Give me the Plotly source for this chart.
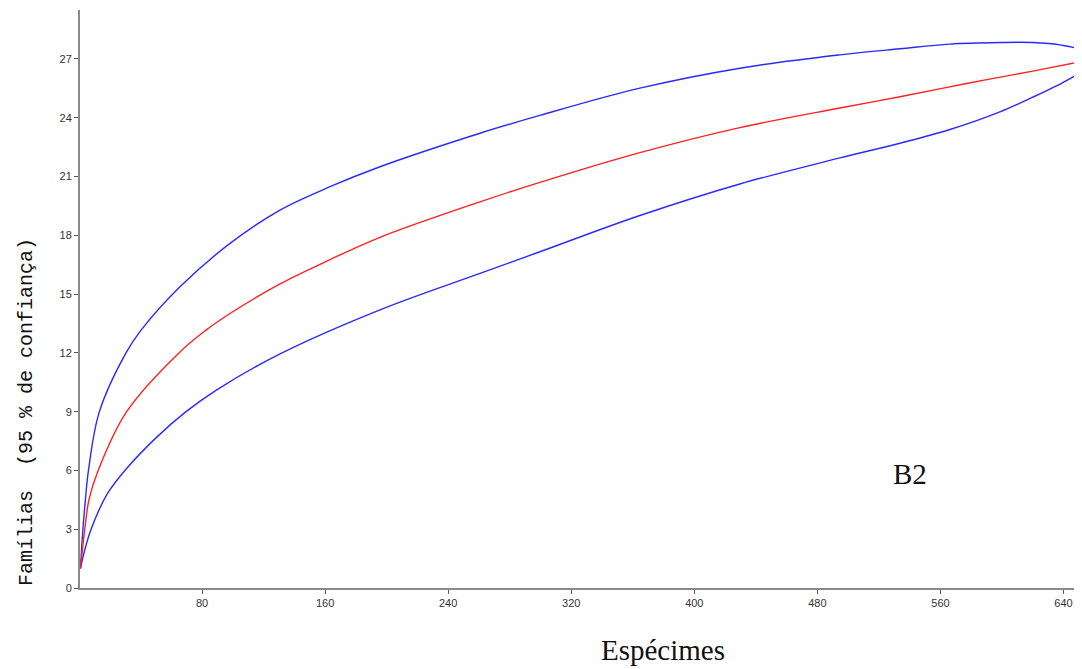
import plotly.graph_objects as go

# Data
mean_x = [1, 3.8, 6.5, 12.5, 31.0, 65.7, 82.6, 98.2, 130.7, 163.2, 195.7, 260.7, 299.6,
          364.6, 429.6, 494.6, 533.6, 577.0, 620.0, 651.9, 656.0]
mean_y = [1.0, 3.0, 4.5, 6.0, 9.0, 12.05, 13.16, 14.01, 15.52, 16.76, 17.90, 19.71, 20.70,
          22.22, 23.50, 24.50, 25.07, 25.75, 26.38, 26.88, 26.95]

upper_x = [1, 2.6, 4.2, 6.2, 13.3, 30.6, 40.4, 65.7, 98.2, 130.7, 163.2, 195.7, 260.7,
           299.6, 364.6, 429.6, 494.6, 533.6, 566.1, 598.6, 620.0, 637.5, 651.9, 656.0]
upper_y = [1.0, 3.0, 4.5, 6.0, 9.0, 12.0, 13.16, 15.37, 17.59, 19.29, 20.48, 21.50, 23.21,
           24.12, 25.51, 26.53, 27.21, 27.52, 27.76, 27.84, 27.84, 27.72, 27.43, 27.0]

lower_x = [1, 3.5, 7.9, 18.4, 31.0, 50.6, 69.6, 89.1, 130.7, 195.7, 260.7, 299.6,
           364.6, 429.6, 494.6, 533.6, 566.1, 598.6, 620.0, 641.9, 651.9, 656.0]
lower_y = [1.0, 1.85, 3.0, 4.8, 6.1, 7.7, 9.0, 10.09, 11.95, 14.20, 16.06, 17.16,
           19.01, 20.62, 21.95, 22.70, 23.40, 24.30, 25.05, 25.90, 26.40, 27.0]

x_ticks = [80, 160, 240, 320, 400, 480, 560, 640]
y_ticks = [0, 3, 6, 9, 12, 15, 18, 21, 24, 27]

BLUE = "#2a2aff"
RED = "#ff2020"

fig = go.Figure()
for xs, ys, col in [(upper_x, upper_y, BLUE), (lower_x, lower_y, BLUE), (mean_x, mean_y, RED)]:
    fig.add_trace(go.Scatter(x=xs, y=ys, mode="lines",
                             line=dict(color=col, width=1.4, shape="spline", smoothing=1.0),
                             showlegend=False, hoverinfo="skip"))

tick_font = dict(family="Liberation Sans Narrow, Liberation Sans, Arial", size=11, color="#333333")
serif = "Liberation Serif, Times New Roman, serif"

fig.update_layout(
    width=1074, height=661,
    paper_bgcolor="white", plot_bgcolor="white",
    margin=dict(l=72, r=0, t=2, b=81),
    xaxis=dict(range=[0.7, 652], tickvals=x_ticks, ticktext=[str(v) for v in x_ticks],
               showgrid=False, zeroline=False, showline=True, linecolor="#8a8a8a",
               linewidth=2, ticks="outside", ticklen=4, tickcolor="#555555",
               tickfont=tick_font),
    yaxis=dict(range=[0, 29.5], tickvals=y_ticks, ticktext=[str(v) for v in y_ticks],
               showgrid=False, zeroline=False, showline=True, linecolor="#8a8a8a",
               linewidth=2, ticks="outside", ticklen=4, tickcolor="#555555",
               tickfont=tick_font),
    annotations=[
        dict(text="Famílias  (95 % de confiança)", xref="paper", yref="paper",
             x=-0.0529, y=0.3045, xanchor="center", yanchor="middle", textangle=-90,
             showarrow=False,
             font=dict(family="Liberation Mono, DejaVu Sans Mono, monospace", size=20, color="#111111")),
        dict(text="Espécimes", xref="paper", yref="paper",
             x=0.582, y=-0.107, xanchor="center", yanchor="middle", showarrow=False,
             font=dict(family=serif, size=29, color="#111111")),
        dict(text="B2", xref="paper", yref="paper",
             x=0.828, y=0.197, xanchor="center", yanchor="middle", showarrow=False,
             font=dict(family=serif, size=29, color="#111111")),
    ],
)

fig.write_html("out.html")
